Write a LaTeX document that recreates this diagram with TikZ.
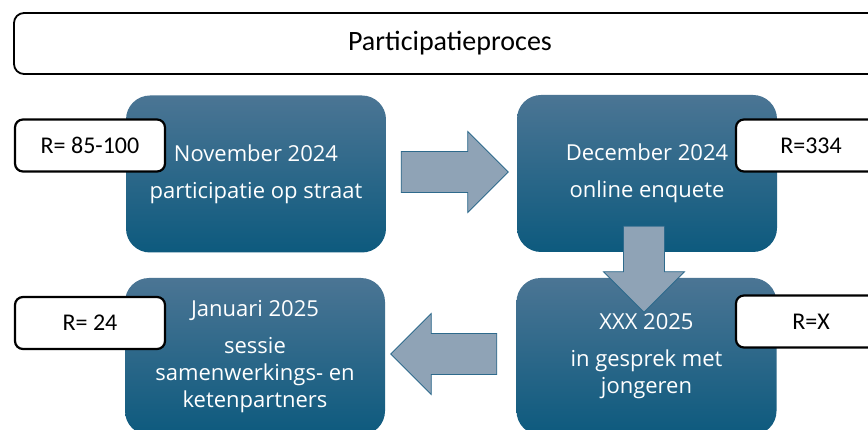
\documentclass[tikz,border=0pt]{standalone}
\usepackage{fontspec}
\setmainfont{Carlito}
\newfontfamily\blokfont{Open Sans}
\usetikzlibrary{shapes.arrows}

\definecolor{bloktop}{HTML}{4B7594}
\definecolor{blokmid}{HTML}{11628A}
\definecolor{blokbodem}{HTML}{0D5A7E}
\definecolor{pijlvul}{HTML}{8FA3B6}
\definecolor{pijlrand}{HTML}{2E6A8C}

\tikzset{
  blok/.style={rectangle, rounded corners=24pt, minimum width=260pt, minimum height=157pt,
    top color=bloktop, middle color=blokmid, bottom color=blokbodem,
    text=white, align=center, font=\blokfont\fontsize{22}{27}\selectfont},
  aantal/.style={rectangle, rounded corners=8pt, draw=black, line width=2.2pt, fill=white,
    minimum width=150pt, minimum height=52pt, font=\fontsize{24}{28}\selectfont},
  pijl/.style={single arrow, draw=pijlrand, line width=0.8pt, fill=pijlvul,
    minimum width=81pt, single arrow head extend=20pt, inner xsep=0pt, inner ysep=20pt}
}

\begin{document}
\begin{tikzpicture}[x=1pt,y=-1pt]

        \clip (0,0) rectangle (868,430);
        \fill[white] (0,0) rectangle (868,430);

        % Titel
        \node[rectangle, rounded corners=10pt, draw=black, line width=1.8pt,
              minimum width=872pt, minimum height=61pt, font=\fontsize{28}{32}\selectfont]
              (titel) at (450,43.5) {Participatieproces};

        % Blokken
        \node[blok] (nov) at (256,174) {November 2024\\[10pt]participatie op straat};
        \node[blok] (dec) at (647,173.5) {December 2024\\[10pt]online enquete};
        \node[blok] (xxx) at (646.5,356.5) {XXX 2025\\[10pt]in gesprek met\\jongeren};
        \node[blok] (jan) at (255,356.5) {Januari 2025\\[10pt]sessie\\samenwerkings- en\\ketenpartners};

        % Pijlen
        \node[pijl, minimum height=107pt] (pijl1) at (444.5,172) {};
        \node[pijl, minimum height=86pt, shape border rotate=270, inner xsep=20pt, inner ysep=0pt]
              (pijl2) at (644,259) {};
        \node[pijl, minimum height=106pt, shape border rotate=180] (pijl3) at (454,354) {};

        % Aantallen
        \node[aantal] (rnov) at (90,145.5) {R= 85-100};
        \node[aantal] (rdec) at (811,145.5) {R=334};
        \node[aantal] (rxxx) at (811,321.5) {R=X};
        \node[aantal] (rjan) at (90,323) {R= 24};

\end{tikzpicture}
\end{document}
